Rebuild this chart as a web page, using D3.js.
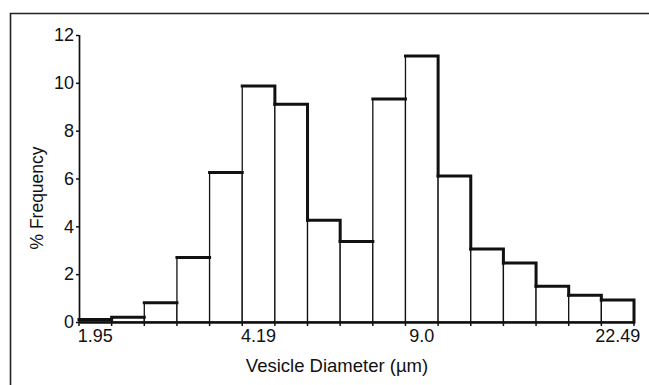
<!DOCTYPE html>
<html>
<head>
<meta charset="utf-8">
<script src="https://cdn.jsdelivr.net/npm/d3@7"></script>
<style>
  body { margin: 0; background: #fff; }
  text { font-family: "Liberation Sans", Arial, sans-serif; fill: #111; }
</style>
</head>
<body>
<div class="canva"></div>
<script>
// histogram bins (only some are labelled on the axis)
const binLabels = ["1.95", "", "", "", "", "4.19", "", "", "", "", "9.0", "", "", "", "", "", "22.49"];
const freq = [0.1, 0.2, 0.8, 2.7, 6.25, 9.87, 9.1, 4.25, 3.37, 9.32, 11.12, 6.1, 3.05, 2.47, 1.5, 1.12, 0.92];
const yTicks = [0, 2, 4, 6, 8, 10, 12];

const width = 649, height = 385;

const svg = d3.select(".canva").append("svg")
            .attr("width", width)
            .attr("height", height);

// frame (top + left, the rest is cropped off)
svg.append("path")
   .attr("d", `M10.5,${height} L10.5,13.5 L${width},13.5`)
   .attr("fill", "none")
   .attr("stroke", "#222")
   .attr("stroke-width", 1.6);

const idx = d3.range(binLabels.length);
const x = d3.scaleBand().domain(idx).range([79, 634]).padding(0);
const y = d3.scaleLinear().domain([0, 12]).range([322, 35]);

const g = svg.append("g");

// bars, thin outline
g.selectAll("rect.bar")
 .data(freq)
 .enter().append("rect")
 .attr("class", "bar")
 .attr("x", (d, i) => x(i))
 .attr("y", d => y(d))
 .attr("width", x.bandwidth())
 .attr("height", d => y(0) - y(d))
 .attr("fill", "#fff")
 .attr("stroke", "#111")
 .attr("stroke-width", 1.3);

// heavier top / falling right edges like the printed figure
freq.forEach((d, i) => {
  const next = i < freq.length - 1 ? freq[i + 1] : 0;
  const x0 = x(i), x1 = x(i) + x.bandwidth();
  let p = `M${x0},${y(d)} L${x1},${y(d)}`;
  if (next < d) p += ` L${x1},${y(next)}`;
  g.append("path")
   .attr("d", p)
   .attr("fill", "none")
   .attr("stroke", "#111")
   .attr("stroke-width", 3)
   .attr("stroke-linecap", "square");
});

// y axis
const yAxis = d3.axisLeft(y).tickValues(yTicks).tickSize(3).tickPadding(2);
const yg = svg.append("g")
   .attr("transform", "translate(79,0)")
   .call(yAxis);
yg.select(".domain").attr("stroke", "#111").attr("stroke-width", 1.7)
  .attr("d", `M0.5,${y(12)} V${y(0)}`);
yg.selectAll(".tick line").attr("stroke", "#111").attr("stroke-width", 1.5);
yg.selectAll(".tick text").style("font-size", "18px").attr("fill", "#111");

// x axis: labels at bin centres, ticks at bin edges
const xAxis = d3.axisBottom(x).tickFormat(i => binLabels[i]).tickSize(0).tickPadding(7);
const xg = svg.append("g")
   .attr("transform", `translate(0,${y(0)})`)
   .call(xAxis);
xg.select(".domain").attr("stroke", "#111").attr("stroke-width", 2.6);
xg.selectAll(".tick text").style("font-size", "18px").attr("fill", "#111");

const edges = idx.map(i => x(i)).concat([x(idx[idx.length - 1]) + x.bandwidth()]);
xg.selectAll("line.edge")
  .data(edges)
  .enter().append("line")
  .attr("class", "edge")
  .attr("x1", d => d).attr("x2", d => d)
  .attr("y1", 0).attr("y2", 4)
  .attr("stroke", "#111")
  .attr("stroke-width", 1.5);

// axis titles
svg.append("text")
   .attr("x", 337)
   .attr("y", 372)
   .attr("text-anchor", "middle")
   .style("font-size", "18.5px")
   .text("Vesicle Diameter (µm)");

svg.append("text")
   .attr("transform", "translate(43,198) rotate(-90)")
   .attr("text-anchor", "middle")
   .style("font-size", "17.5px")
   .text("% Frequency");
</script>
</body>
</html>
